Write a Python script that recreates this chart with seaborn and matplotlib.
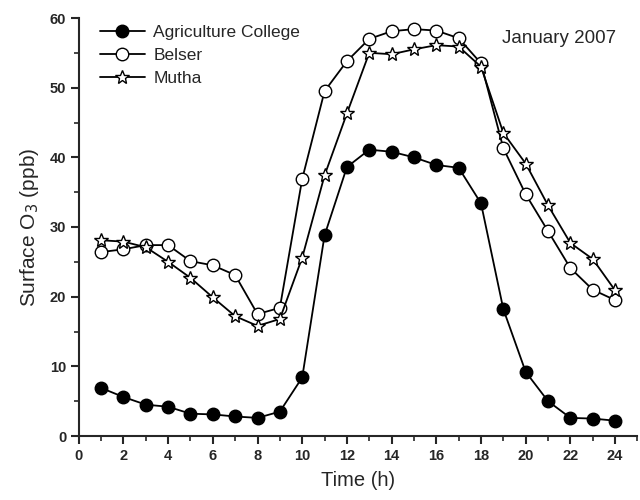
import pandas as pd
import matplotlib.pyplot as plt
import seaborn as sns
from matplotlib.ticker import MultipleLocator

hours = list(range(1, 25))
agri = [6.9, 5.6, 4.5, 4.2, 3.2, 3.1, 2.8, 2.6, 3.5, 8.4, 28.8, 38.6,
        41.1, 40.8, 40.0, 38.9, 38.5, 33.4, 18.2, 9.2, 5.0, 2.6, 2.5, 2.2]
belser = [26.4, 26.8, 27.4, 27.4, 25.1, 24.5, 23.1, 17.5, 18.4, 36.9, 49.5, 53.8,
          57.0, 58.1, 58.4, 58.2, 57.1, 53.5, 41.3, 34.7, 29.4, 24.1, 21.0, 19.5]
mutha = [28.1, 27.9, 27.1, 25.0, 22.7, 19.9, 17.2, 15.8, 16.8, 25.6, 37.4, 46.3,
         55.0, 54.8, 55.5, 56.1, 55.9, 53.0, 43.5, 39.1, 33.1, 27.7, 25.4, 20.9]

df = pd.DataFrame({'hour': hours, 'Agriculture College': agri, 'Belser': belser, 'Mutha': mutha})

sns.set_theme(style="ticks")
plt.rcParams['font.family'] = ['Liberation Sans', 'DejaVu Sans']

fig = plt.figure(figsize=(6.4, 5), dpi=100)
ax = fig.add_axes([0.123, 0.128, 0.873, 0.836])

styles = {
    'Agriculture College': dict(marker='o', markersize=9, markerfacecolor='black'),
    'Belser': dict(marker='o', markersize=9, markerfacecolor='white'),
    'Mutha': dict(marker='*', markersize=10.5, markerfacecolor='white'),
}
for name, st in styles.items():
    sns.lineplot(data=df, x='hour', y=name, ax=ax, color='black', linewidth=1.3,
                 markeredgecolor='black', markeredgewidth=1.0, label=name, **st)

ax.set_xlim(0, 25)
ax.set_ylim(0, 60)
ax.xaxis.set_major_locator(MultipleLocator(2))
ax.xaxis.set_minor_locator(MultipleLocator(1))
ax.yaxis.set_major_locator(MultipleLocator(10))
ax.yaxis.set_minor_locator(MultipleLocator(5))
ax.tick_params(which='major', direction='out', length=6, width=1.5, labelsize=10.5, pad=3)
ax.tick_params(which='minor', direction='out', length=3.5, width=1.2)
for lbl in ax.get_xticklabels() + ax.get_yticklabels():
    lbl.set_fontweight('bold')
for s in ['left', 'bottom']:
    ax.spines[s].set_linewidth(1.5)
sns.despine(ax=ax)

ax.set_xlabel('Time (h)', fontsize=14.5, labelpad=6)
ax.set_ylabel('Surface O$_3$ (ppb)', fontsize=15, labelpad=6)
ax.text(0.962, 0.952, 'January 2007', transform=ax.transAxes, ha='right', va='center', fontsize=13.5)
ax.legend(loc='upper left', bbox_to_anchor=(0.025, 1.0), frameon=False, fontsize=12.5,
          handlelength=2.6, handletextpad=0.5, labelspacing=0.45, borderaxespad=0)

fig.savefig('out.png', dpi=100)
